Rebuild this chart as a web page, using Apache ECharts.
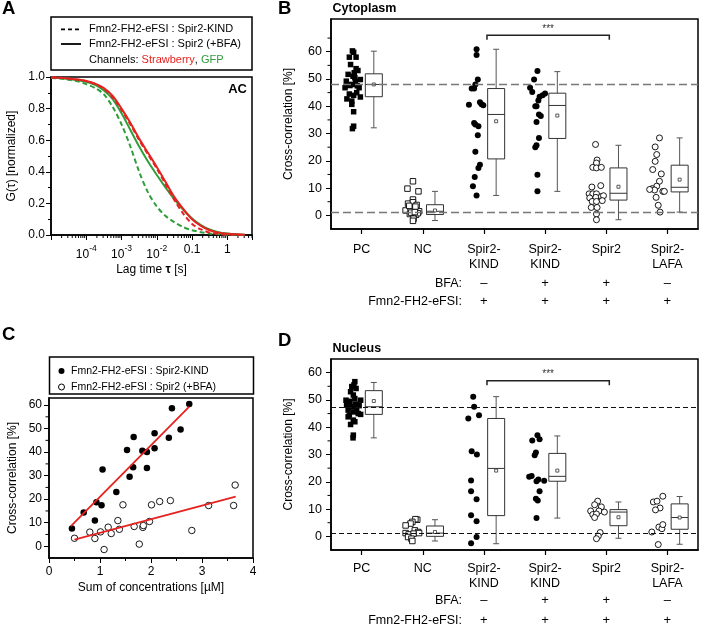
<!DOCTYPE html>
<html>
<head>
<meta charset="utf-8">
<script src="https://cdn.jsdelivr.net/npm/echarts@6.0.0/dist/echarts.min.js"></script>
<style>
html,body{margin:0;padding:0;background:#ffffff;}
#chart{width:701px;height:626px;}
</style>
</head>
<body>
<div id="chart"></div>
<script>
// ===================== Panel A : normalized autocorrelation (AC) =====================
const lagTimes = [1e-5,1.78e-5,3.16e-5,5.62e-5,1e-4,1.78e-4,3.16e-4,5.62e-4,1e-3,1.78e-3,3.16e-3,5.62e-3,1e-2,1.78e-2,3.16e-2,5.62e-2,0.1,0.178,0.316,0.562,1,1.78,3.16];
const gKindStrawberry = [0.997,0.995,0.99,0.983,0.973,0.955,0.925,0.87,0.79,0.70,0.60,0.51,0.42,0.32,0.22,0.135,0.07,0.035,0.015,0.006,0.002,0.001,0];
const gKindGfp        = [0.993,0.99,0.983,0.973,0.955,0.93,0.89,0.81,0.70,0.56,0.40,0.27,0.18,0.12,0.08,0.05,0.03,0.018,0.01,0.005,0.002,0.001,0];
const gBfaStrawberry  = [0.997,0.995,0.99,0.984,0.975,0.958,0.93,0.88,0.80,0.71,0.61,0.52,0.43,0.335,0.24,0.165,0.10,0.058,0.03,0.015,0.008,0.004,0.002];
const gBfaGfp         = [0.996,0.993,0.988,0.98,0.97,0.95,0.915,0.86,0.77,0.665,0.56,0.465,0.38,0.30,0.225,0.16,0.105,0.063,0.035,0.018,0.009,0.004,0.002];

// ===================== Panels B / D : categories =====================
const categories = ['PC','NC','Spir2-\nKIND','Spir2-\nKIND','Spir2','Spir2-\nLAFA'];
const bfaRow = ['','','–','+','+','–'];
const fmnRow = ['','','+','+','+','+'];
const bdYTicks = [0,10,20,30,40,50,60];
const bYMinor = [5,15,25,35,45,55,65];
const dYMinor = [5,15,25,35,45,55];

// Panel B (cytoplasm): [x-jitter within category, cross-correlation %]
const cytoPC = [[-0.15,60.3],[-0.13,59.8],[-0.20,58.0],[-0.09,58.0],[-0.18,55.3],[-0.09,53.8],[-0.06,53.1],[-0.22,51.7],[-0.14,51.0],[-0.12,52.3],[-0.25,49.2],[-0.02,49.8],[-0.19,47.6],[-0.10,49.2],[-0.27,46.8],[-0.04,46.8],[-0.14,48.0],[-0.08,45.0],[-0.13,44.0],[-0.24,42.7],[-0.02,43.4],[-0.16,41.9],[-0.16,40.7],[-0.13,38.0],[-0.13,32.7],[-0.15,31.8],[-0.20,44.5],[-0.07,47.5],[-0.11,50.5],[-0.22,48.0]];
const cytoNC = [[-0.16,12.5],[-0.25,9.8],[-0.07,8.8],[-0.16,5.8],[-0.24,4.3],[-0.16,4.8],[-0.10,3.8],[-0.28,1.8],[-0.14,2.2],[-0.06,1.5],[-0.21,0.5],[-0.11,0.2],[-0.15,-1.2],[-0.16,-2.0],[-0.20,2.8],[-0.12,3.2],[-0.19,1.0],[-0.08,0.8],[-0.13,1.2],[-0.22,3.5]];
const cytoKind = [[-0.12,60.9],[-0.12,58.8],[-0.10,49.8],[-0.14,48.0],[-0.20,46.5],[-0.16,46.5],[-0.245,40.6],[-0.065,41.5],[-0.04,40.7],[-0.01,40.4],[-0.16,33.9],[-0.14,33.3],[-0.09,32.7],[-0.10,29.4],[-0.14,23.3],[-0.065,18.6],[-0.09,17.4],[-0.15,14.1],[-0.18,10.7],[-0.12,7.3]];
const cytoKindBfa = [[-0.125,52.9],[-0.18,49.8],[-0.245,46.8],[-0.21,45.2],[0.0,44.7],[-0.04,44.0],[-0.09,43.5],[-0.11,42.1],[-0.14,40.0],[-0.16,40.0],[-0.10,37.0],[-0.07,36.4],[-0.14,34.2],[-0.10,28.4],[-0.14,25.7],[-0.16,25.0],[-0.125,14.9],[-0.125,8.8]];
const cytoSpir2Bfa = [[-0.175,26.0],[-0.15,20.3],[-0.16,19.2],[-0.22,17.6],[-0.16,17.4],[-0.08,17.6],[-0.235,10.4],[-0.09,10.9],[-0.28,7.9],[-0.22,7.9],[-0.16,7.9],[-0.27,6.4],[-0.17,6.6],[-0.08,6.9],[-0.045,7.2],[-0.23,5.1],[-0.16,5.1],[-0.065,5.4],[-0.245,2.9],[-0.15,2.9],[-0.16,0.5],[-0.16,-1.6]];
const cytoLafa = [[-0.13,28.4],[-0.20,25.1],[-0.175,22.3],[-0.20,19.8],[-0.24,16.8],[-0.10,15.2],[-0.13,12.5],[-0.175,10.7],[-0.25,9.8],[-0.21,9.3],[-0.29,9.5],[-0.075,8.8],[-0.05,8.8],[-0.185,6.6],[-0.15,3.7],[-0.12,1.2]];
// box stats: [min, Q1, median, Q3, max, mean]
const cytoBoxes = [[32.1,43.5,48.0,51.9,60.2,48.0],[-1.9,0.3,1.5,3.9,8.8,1.8],[7.3,20.7,37.0,46.5,60.9,34.5],[8.8,28.2,40.3,44.8,52.7,36.6],[-1.6,5.6,8.1,17.4,25.7,10.5],[1.2,8.6,10.3,18.4,28.4,13.1]];
const cytoRefLines = [48.0,1.3];
const cytoSig = [[2,4,66]];

// Panel D (nucleus)
const nucPC = [[-0.11,56.7],[-0.125,55.5],[-0.16,54.9],[-0.09,54.2],[-0.18,53.0],[-0.135,51.8],[-0.255,49.9],[-0.19,49.5],[-0.11,50.5],[-0.015,49.9],[-0.245,48.1],[-0.16,47.5],[-0.08,46.9],[-0.04,47.9],[-0.22,46.3],[-0.135,45.6],[-0.055,45.0],[-0.015,44.7],[-0.22,43.8],[-0.135,42.6],[-0.18,41.0],[-0.11,42.0],[-0.135,37.1],[-0.14,36.1],[-0.20,44.5],[-0.10,48.5]];
const nucNC = [[-0.09,6.1],[-0.12,6.3],[-0.17,5.3],[-0.20,4.7],[-0.28,4.0],[-0.13,2.2],[-0.075,1.6],[-0.28,1.2],[-0.23,0.7],[-0.15,1.0],[-0.06,1.2],[-0.24,-0.25],[-0.185,-0.85],[-0.17,-1.7]];
const nucKind = [[-0.175,51.2],[-0.16,47.5],[-0.255,43.2],[-0.08,44.4],[-0.20,31.2],[-0.115,30.0],[-0.21,20.5],[-0.21,16.5],[-0.12,13.6],[-0.21,7.7],[-0.12,5.5],[-0.12,-0.25],[-0.21,-2.5]];
const nucKindBfa = [[-0.125,37.1],[-0.09,35.6],[-0.21,35.1],[-0.15,30.7],[-0.17,29.7],[-0.26,21.8],[-0.22,22.1],[-0.11,20.8],[-0.14,20.2],[-0.015,20.4],[-0.09,16.5],[-0.12,13.1],[-0.15,13.8],[-0.14,6.7]];
const nucSpir2Bfa = [[-0.14,12.9],[-0.19,11.6],[-0.08,10.8],[-0.255,9.3],[-0.12,9.3],[-0.03,8.9],[-0.22,8.0],[-0.16,8.2],[-0.19,6.9],[-0.10,1.4],[-0.13,0.1],[-0.16,-0.85]];
const nucLafa = [[-0.075,14.7],[-0.23,12.6],[-0.17,12.9],[-0.12,10.4],[-0.195,9.7],[-0.14,3.4],[-0.09,2.8],[-0.075,4.3],[-0.255,1.6],[-0.15,-3.0]];
const nucBoxes = [[36.1,44.7,47.5,53.4,56.4,49.6],[-1.7,0.0,1.2,3.8,6.1,1.6],[-2.7,7.6,24.9,43.2,51.2,24.1],[6.7,20.2,22.0,30.4,36.8,24.1],[-0.7,3.9,8.9,9.8,12.6,7.0],[-2.9,2.6,6.9,11.9,14.6,6.9]];
const nucRefLines = [47.5,1.0];
const nucSig = [[2,4,57]];

// ===================== Panel C : cross-correlation vs concentration =====================
const concKind = [0.45,0.68,0.90,0.93,1.03,1.05,1.32,1.53,1.58,1.65,1.66,1.83,1.92,1.92,2.07,2.07,2.35,2.41,2.58,2.75];
const ccKind   = [7.5,14.3,10.9,18.7,17.4,32.6,23.1,40.9,29.5,33.6,46.4,40.6,40.0,33.3,48.0,41.6,46.1,58.6,49.6,60.4];
const concBfa  = [0.50,0.80,0.90,1.01,1.08,1.16,1.22,1.35,1.38,1.45,1.67,1.77,1.84,1.85,1.97,2.01,2.17,2.38,2.80,3.13,3.62,3.65];
const ccBfa    = [3.4,6.0,3.3,6.1,-1.4,8.1,5.4,10.9,7.2,17.6,8.4,0.9,8.0,8.8,10.5,17.6,19.0,19.4,6.7,17.3,17.3,26.0];
const fitKindX = [0.43,2.75], fitKindY = [8.5,59.3];
const fitBfaX  = [0.50,3.66], fitBfaY  = [2.8,21.1];
const cXTicks = [0,1,2,3,4];
const cYTicks = [0,10,20,30,40,50,60];
const cYMinor = [5,15,25,35,45,55];

// ===================== styling / helpers =====================
const FONT = "'Liberation Sans', Arial, Helvetica, sans-serif";
const RED = '#e42320', GREEN = '#2f9e3c';
const BOX_SHIFT = 0.2;
const MARK = [
  {symbol:'rect', size:5.5, fill:'#000'},
  {symbol:'rect', size:5.5, fill:'#fff'},
  {symbol:'circle', size:6, fill:'#000'},
  {symbol:'circle', size:6, fill:'#000'},
  {symbol:'circle', size:6, fill:'#fff'},
  {symbol:'circle', size:6, fill:'#fff'}
];
const txt = (fs, extra) => Object.assign({color:'#000', fontSize:fs, fontFamily:FONT}, extra || {});

function renderBox(params, api) {
  const x = api.value(0);
  const pMin = api.coord([x, api.value(1)]);
  const pQ1 = api.coord([x, api.value(2)]);
  const pMed = api.coord([x, api.value(3)]);
  const pQ3 = api.coord([x, api.value(4)]);
  const pMax = api.coord([x, api.value(5)]);
  const pMean = api.coord([x, api.value(6)]);
  const cx = pMin[0], hw = 8.5, cap = 3;
  const ws = {stroke:'#555', lineWidth:1};
  const bs = {stroke:'#333', lineWidth:1, fill:null};
  return {type:'group', children:[
    {type:'line', shape:{x1:cx,y1:pMax[1],x2:cx,y2:pQ3[1]}, style:ws},
    {type:'line', shape:{x1:cx,y1:pQ1[1],x2:cx,y2:pMin[1]}, style:ws},
    {type:'line', shape:{x1:cx-cap,y1:pMax[1],x2:cx+cap,y2:pMax[1]}, style:ws},
    {type:'line', shape:{x1:cx-cap,y1:pMin[1],x2:cx+cap,y2:pMin[1]}, style:ws},
    {type:'rect', shape:{x:cx-hw,y:pQ3[1],width:2*hw,height:pQ1[1]-pQ3[1]}, style:bs},
    {type:'line', shape:{x1:cx-hw,y1:pMed[1],x2:cx+hw,y2:pMed[1]}, style:{stroke:'#333', lineWidth:1}},
    {type:'rect', shape:{x:cx-1.5,y:pMean[1]-1.5,width:3,height:3}, style:{stroke:'#333', lineWidth:0.8, fill:'#fff'}}
  ]};
}
function renderSig(params, api) {
  const a = api.coord([api.value(0)+0.05, api.value(2)]);
  const b = api.coord([api.value(1)+0.05, api.value(2)]);
  return {type:'group', children:[
    {type:'polyline', shape:{points:[[a[0],a[1]+4.5],[a[0],a[1]],[b[0],b[1]],[b[0],b[1]+4.5]]}, style:{stroke:'#222', lineWidth:1.5, fill:null}},
    {type:'text', x:(a[0]+b[0])/2, y:a[1]-6.5, style:{text:'***', fontSize:10, fontFamily:FONT, fill:'#333', align:'center', verticalAlign:'middle'}}
  ]};
}
function groupSeries(groups, xIdx, yIdx, refLines, refStyle) {
  return groups.map((pts, i) => {
    const s = {
      type:'scatter', xAxisIndex:xIdx, yAxisIndex:yIdx, silent:true, z:3,
      symbol:MARK[i].symbol, symbolSize:MARK[i].size,
      itemStyle:{color:MARK[i].fill, borderColor:'#000', borderWidth:MARK[i].fill === '#fff' ? 0.9 : 0, opacity:1},
      data: pts.map(p => [i + p[0], p[1]])
    };
    if (i === 0) {
      s.markLine = {silent:true, symbol:['none','none'], label:{show:false}, animation:false,
        lineStyle:refStyle, data: refLines.map(v => ({yAxis:v}))};
    }
    return s;
  });
}
function boxSeries(stats, xIdx, yIdx) {
  return {type:'custom', xAxisIndex:xIdx, yAxisIndex:yIdx, silent:true, z:4, clip:false,
    encode:{x:0, y:[1,2,3,4,5,6]},
    data: stats.map((s, i) => [i + BOX_SHIFT].concat(s)), renderItem: renderBox};
}
function sigSeries(sig, xIdx, yIdx) {
  return {type:'custom', xAxisIndex:xIdx, yAxisIndex:yIdx, silent:true, z:5, clip:false,
    encode:{x:[0,1], y:2}, data:sig, renderItem: renderSig};
}
// short minor ticks on the left edge of a grid (xEdge = the x-axis minimum)
function minorYTicks(ticks, xEdge, xIdx, yIdx) {
  return {type:'custom', xAxisIndex:xIdx, yAxisIndex:yIdx, silent:true, clip:false, z:6,
    encode:{x:0, y:1}, data:ticks.map(v => [xEdge, v]),
    renderItem:(p, api) => { const c = api.coord([api.value(0), api.value(1)]);
      return {type:'line', shape:{x1:c[0]-3.5, y1:c[1], x2:c[0], y2:c[1]}, style:{stroke:'#000', lineWidth:1}}; }};
}
function yMain(grid, min, max, ticks, name, nameGap, fs, margin) {
  return {type:'value', gridIndex:grid, position:'left', min:min, max:max,
    axisLine:{show:true, onZero:false, lineStyle:{color:'#000', width:1.5}},
    axisTick:{show:true, inside:false, length:5, customValues:ticks, lineStyle:{color:'#000', width:1}},
    axisLabel:{show:true, customValues:ticks, margin:margin, color:'#000', fontSize:fs, fontFamily:FONT},
    splitLine:{show:false},
    name:name, nameLocation:'middle', nameGap:nameGap, nameTextStyle:txt(12)};
}
function catAxis(grid, data, margin) {
  return {type:'category', gridIndex:grid, position:'bottom', data:data,
    axisLine:{show:true, onZero:false, lineStyle:{color:'#000', width:1.5}},
    axisTick:{show:true, alignWithLabel:true, length:5, lineStyle:{color:'#000', width:1.2}},
    axisLabel:{interval:0, margin:margin, lineHeight:15, color:'#000', fontSize:12.5, fontFamily:FONT},
    splitLine:{show:false}};
}
function rowAxis(grid, data, margin) {
  return {type:'category', gridIndex:grid, position:'bottom', data:data,
    axisLine:{show:false, onZero:false}, axisTick:{show:false}, splitLine:{show:false},
    axisLabel:{interval:0, margin:margin, lineHeight:15, color:'#000', fontSize:13, fontFamily:FONT}};
}
function hiddenX(grid) {
  return {type:'value', gridIndex:grid, position:'bottom', min:-0.5, max:5.5, show:false, axisLine:{onZero:false}};
}

// minor ticks of the log axis (2..9 in each decade), drawn at the bottom of panel A
const logMinor = [];
for (let e = -5; e <= 0; e++) for (let m = 2; m <= 9; m++) { const v = m * Math.pow(10, e); if (v < 5.0001) logMinor.push(v); }

function lagLabel(v) {
  const lg = Math.log10(v), e = Math.round(lg);
  if (Math.abs(lg - e) > 0.01) return '';
  if (e === -1) return '0.1';
  if (e === 0) return '1';
  if (e >= -4 && e <= -2) return '{b|10}{s|' + e + '}';
  return '';
}

const gridCommon = {show:true, borderColor:'#000', borderWidth:1.5, backgroundColor:'transparent', containLabel:false, outerBoundsMode:'none'};

const option = {
  animation:false,
  backgroundColor:'#ffffff',
  textStyle:{fontFamily:FONT},
  grid:[
    Object.assign({left:51, top:77, width:201, height:158}, gridCommon),
    Object.assign({left:331, top:19, width:367, height:210}, gridCommon),
    Object.assign({left:49, top:398, width:204, height:160}, gridCommon),
    Object.assign({left:331, top:359, width:367, height:191}, gridCommon)
  ],
  xAxis:[
    // 0: A log
    {type:'log', gridIndex:0, logBase:10, min:1e-5, max:5, position:'bottom',
      axisLine:{show:true, onZero:false, lineStyle:{color:'#000', width:1.5}},
      axisTick:{show:true, length:5, lineStyle:{color:'#000', width:1}},
      axisLabel:{show:true, margin:9, formatter:lagLabel, color:'#000', fontFamily:FONT,
        rich:{b:{fontSize:12, fontFamily:FONT, color:'#000', lineHeight:17, verticalAlign:'bottom'},
              s:{fontSize:8.5, fontFamily:FONT, color:'#000', lineHeight:10, verticalAlign:'top'}}},
      splitLine:{show:false}, minorTick:{show:false},
      name:'Lag time {t|τ} [s]', nameLocation:'middle', nameGap:29,
      nameTextStyle:txt(12, {rich:{t:{fontSize:12, fontWeight:'bold', fontFamily:FONT, color:'#000'}}})},
    // 1-4: B
    catAxis(1, categories, 12.8),
    hiddenX(1),
    rowAxis(1, bfaRow, 46.8),
    rowAxis(1, fmnRow, 65.2),
    // 5: C
    {type:'value', gridIndex:2, position:'bottom', min:0, max:4, interval:1,
      axisLine:{show:true, onZero:false, lineStyle:{color:'#000', width:1.5}},
      axisTick:{show:true, length:5, lineStyle:{color:'#000', width:1}},
      minorTick:{show:true, splitNumber:2, length:3, lineStyle:{color:'#000', width:1}},
      axisLabel:{margin:8, color:'#000', fontSize:12, fontFamily:FONT, customValues:cXTicks},
      splitLine:{show:false}, minorSplitLine:{show:false},
      name:'Sum of concentrations [µM]', nameLocation:'middle', nameGap:24, nameTextStyle:txt(12)},
    // 6-9: D
    catAxis(3, categories, 11.5),
    hiddenX(3),
    rowAxis(3, bfaRow, 43.2),
    rowAxis(3, fmnRow, 63.2)
  ],
  yAxis:[
    // 0: A
    {type:'value', gridIndex:0, position:'left', min:0, max:1, interval:0.2,
      axisLine:{show:true, onZero:false, lineStyle:{color:'#000', width:1.5}},
      axisTick:{show:true, length:5, lineStyle:{color:'#000', width:1}},
      minorTick:{show:true, splitNumber:2, length:3, lineStyle:{color:'#000', width:1}},
      axisLabel:{margin:6, color:'#000', fontSize:12, fontFamily:FONT, formatter:v => v.toFixed(1)},
      splitLine:{show:false}, minorSplitLine:{show:false},
      name:'G(τ) [normalized]', nameLocation:'middle', nameGap:33, nameTextStyle:txt(12)},
    // 1: B
    yMain(1, -5, 72, bdYTicks, 'Cross-correlation [%]', 36, 12.5, 9),
    // 2: C
    yMain(2, -5, 63, cYTicks, 'Cross-correlation [%]', 30, 12, 7),
    // 3: D
    yMain(3, -5, 65, bdYTicks, 'Cross-correlation [%]', 36, 12.5, 9)
  ],
  legend:[{
    orient:'vertical', left:58, top:364, itemWidth:9, itemHeight:6, itemGap:2,
    selectedMode:false, padding:0,
    textStyle:txt(10.5, {lineHeight:14}),
    data:[
      {name:'Fmn2-FH2-eFSI : Spir2-KIND', icon:'circle', itemStyle:{color:'#000', borderWidth:0}},
      {name:'Fmn2-FH2-eFSI : Spir2 (+BFA)', icon:'circle', itemStyle:{color:'#fff', borderColor:'#000', borderWidth:1}}
    ]
  }],
  series:[].concat(
    // ---- A ----
    [
      {type:'line', name:'AC GFP (Spir2-KIND)', xAxisIndex:0, yAxisIndex:0, showSymbol:false, symbol:'none', smooth:0.3, silent:true,
        lineStyle:{color:GREEN, width:2, type:[5,3]}, data:lagTimes.map((t,i) => [t, gKindGfp[i]])},
      {type:'line', name:'AC GFP (Spir2 +BFA)', xAxisIndex:0, yAxisIndex:0, showSymbol:false, symbol:'none', smooth:0.3, silent:true,
        lineStyle:{color:GREEN, width:2}, data:lagTimes.map((t,i) => [t, gBfaGfp[i]])},
      {type:'line', name:'AC Strawberry (Spir2-KIND)', xAxisIndex:0, yAxisIndex:0, showSymbol:false, symbol:'none', smooth:0.3, silent:true,
        lineStyle:{color:RED, width:2, type:[5,3]}, data:lagTimes.map((t,i) => [t, gKindStrawberry[i]])},
      {type:'line', name:'AC Strawberry (Spir2 +BFA)', xAxisIndex:0, yAxisIndex:0, showSymbol:false, symbol:'none', smooth:0.3, silent:true,
        lineStyle:{color:RED, width:2}, data:lagTimes.map((t,i) => [t, gBfaStrawberry[i]])},
      {type:'custom', xAxisIndex:0, yAxisIndex:0, silent:true, clip:false,
        data:logMinor.map(v => [v, 0]),
        renderItem:(p, api) => { const c = api.coord([api.value(0), 0]);
          return {type:'line', shape:{x1:c[0], y1:c[1], x2:c[0], y2:c[1]+3}, style:{stroke:'#000', lineWidth:1}}; }}
    ],
    // ---- B ----
    groupSeries([cytoPC, cytoNC, cytoKind, cytoKindBfa, cytoSpir2Bfa, cytoLafa], 2, 1, cytoRefLines, {type:[8,4], color:'#777', width:1.3}),
    [boxSeries(cytoBoxes, 2, 1), sigSeries(cytoSig, 2, 1), minorYTicks(bYMinor, -0.5, 2, 1)],
    // ---- C ----
    [
      {type:'scatter', name:'Fmn2-FH2-eFSI : Spir2-KIND', xAxisIndex:5, yAxisIndex:2, symbol:'circle', symbolSize:6.5, silent:true,
        itemStyle:{color:'#000', opacity:1}, data:concKind.map((x,i) => [x, ccKind[i]])},
      {type:'scatter', name:'Fmn2-FH2-eFSI : Spir2 (+BFA)', xAxisIndex:5, yAxisIndex:2, symbol:'circle', symbolSize:6.5, silent:true,
        itemStyle:{color:'#fff', borderColor:'#000', borderWidth:0.9, opacity:1}, data:concBfa.map((x,i) => [x, ccBfa[i]])},
      {type:'line', name:'fit Spir2-KIND', xAxisIndex:5, yAxisIndex:2, symbol:'none', silent:true, z:4,
        lineStyle:{color:RED, width:1.8}, data:fitKindX.map((x,i) => [x, fitKindY[i]])},
      {type:'line', name:'fit Spir2 (+BFA)', xAxisIndex:5, yAxisIndex:2, symbol:'none', silent:true, z:4,
        lineStyle:{color:RED, width:1.8}, data:fitBfaX.map((x,i) => [x, fitBfaY[i]])},
      minorYTicks(cYMinor, 0, 5, 2)
    ],
    // ---- D ----
    groupSeries([nucPC, nucNC, nucKind, nucKindBfa, nucSpir2Bfa, nucLafa], 7, 3, nucRefLines, {type:[5,3], color:'#111', width:1.1}),
    [boxSeries(nucBoxes, 7, 3), sigSeries(nucSig, 7, 3), minorYTicks(dYMinor, -0.5, 7, 3)]
  ),
  graphic:[
    // panel letters and titles
    {type:'text', x:2, y:9, style:{text:'A', fontSize:18.5, fontWeight:'bold', fontFamily:FONT, fill:'#000', align:'left', verticalAlign:'middle'}},
    {type:'text', x:278, y:9, style:{text:'B', fontSize:18.5, fontWeight:'bold', fontFamily:FONT, fill:'#000', align:'left', verticalAlign:'middle'}},
    {type:'text', x:2, y:335, style:{text:'C', fontSize:18.5, fontWeight:'bold', fontFamily:FONT, fill:'#000', align:'left', verticalAlign:'middle'}},
    {type:'text', x:278, y:341, style:{text:'D', fontSize:18.5, fontWeight:'bold', fontFamily:FONT, fill:'#000', align:'left', verticalAlign:'middle'}},
    {type:'text', x:332.5, y:8.5, style:{text:'Cytoplasm', fontSize:12.5, fontWeight:'bold', fontFamily:FONT, fill:'#000', align:'left', verticalAlign:'middle'}},
    {type:'text', x:332.5, y:349, style:{text:'Nucleus', fontSize:12.5, fontWeight:'bold', fontFamily:FONT, fill:'#000', align:'left', verticalAlign:'middle'}},
    {type:'text', x:247, y:89, style:{text:'AC', fontSize:13, fontWeight:'bold', fontFamily:FONT, fill:'#000', align:'right', verticalAlign:'middle'}},
    // row headers under B and D
    {type:'text', x:462, y:283.3, style:{text:'BFA:', fontSize:12.5, fontFamily:FONT, fill:'#000', align:'right', verticalAlign:'middle'}},
    {type:'text', x:462, y:301.7, style:{text:'Fmn2-FH2-eFSI:', fontSize:12.5, fontFamily:FONT, fill:'#000', align:'right', verticalAlign:'middle'}},
    {type:'text', x:462, y:600.7, style:{text:'BFA:', fontSize:12.5, fontFamily:FONT, fill:'#000', align:'right', verticalAlign:'middle'}},
    {type:'text', x:462, y:620.7, style:{text:'Fmn2-FH2-eFSI:', fontSize:12.5, fontFamily:FONT, fill:'#000', align:'right', verticalAlign:'middle'}},
    // legend of panel A
    {type:'rect', shape:{x:51, y:17, width:201, height:53}, style:{fill:null, stroke:'#000', lineWidth:1.5}},
    {type:'line', shape:{x1:61, y1:29.3, x2:81, y2:29.3}, style:{stroke:'#000', lineWidth:1.8, lineDash:[4,3]}},
    {type:'line', shape:{x1:61, y1:44, x2:81, y2:44}, style:{stroke:'#000', lineWidth:1.8}},
    {type:'text', x:89, y:29.3, style:{text:'Fmn2-FH2-eFSI : Spir2-KIND', fontSize:11, fontFamily:FONT, fill:'#000', align:'left', verticalAlign:'middle'}},
    {type:'text', x:89, y:44, style:{text:'Fmn2-FH2-eFSI : Spir2 (+BFA)', fontSize:11, fontFamily:FONT, fill:'#000', align:'left', verticalAlign:'middle'}},
    {type:'text', x:89, y:60, style:{text:'Channels: {r|Strawberry}, {g|GFP}', fontSize:11, fontFamily:FONT, fill:'#000', align:'left', verticalAlign:'middle',
      rich:{r:{fill:RED, fontSize:11, fontFamily:FONT}, g:{fill:GREEN, fontSize:11, fontFamily:FONT}}}},
    // legend frame of panel C
    {type:'rect', shape:{x:49.5, y:357, width:204, height:37}, style:{fill:null, stroke:'#000', lineWidth:1.5}}
  ]
};

const chart = echarts.init(document.getElementById('chart'), null, {renderer:'canvas', width:701, height:626});
chart.setOption(option);
</script>
</body>
</html>
